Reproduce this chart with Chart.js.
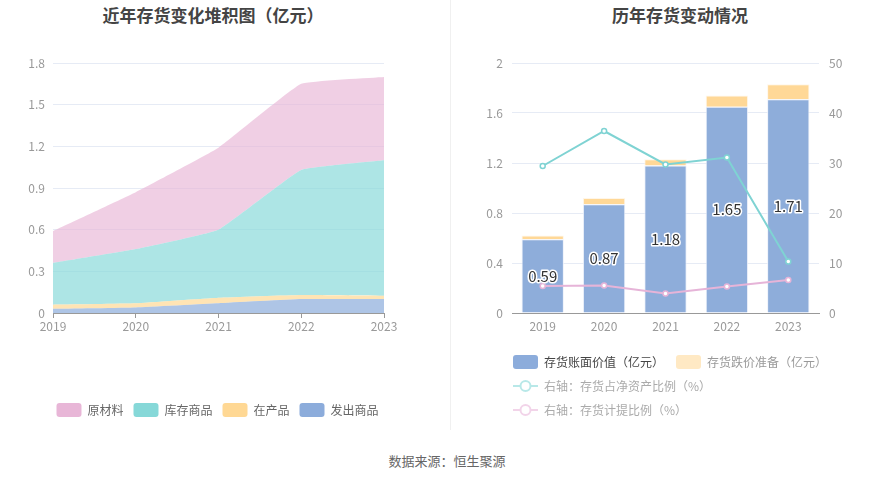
<!DOCTYPE html>
<html>
<head>
<meta charset="utf-8">
<script src="https://cdn.jsdelivr.net/npm/chart.js@4.4.1/dist/chart.umd.min.js"></script>
<style>
  body { margin: 0; background: #fff; font-family: "Noto Sans CJK SC", "Noto Sans", sans-serif; }
  #wrap { position: relative; width: 893px; height: 481px; overflow: hidden; }
  .title { position: absolute; top: 2px; font-size: 17px; font-weight: bold; color: #444; transform: translateX(-50%); white-space: nowrap; }
  #sep { position: absolute; left: 450px; top: 0; width: 1px; height: 430px; background: #f0f0f0; }
  #src { position: absolute; top: 451px; left: 447px; transform: translateX(-50%); font-size: 13px; color: #666; white-space: nowrap; }
  .box { position: absolute; }
</style>
</head>
<body>
<div id="wrap">
  <div class="title" style="left:213px">近年存货变化堆积图（亿元）</div>
  <div class="title" style="left:680px">历年存货变动情况</div>
  <div id="sep"></div>
  <div class="box" style="left:0;top:40px;width:435px;height:387px"><canvas id="left"></canvas></div>
  <div class="box" style="left:450px;top:40px;width:443px;height:390px"><canvas id="right"></canvas></div>
  <div id="src">数据来源：恒生聚源</div>
</div>
<script>
// 数据
var years = ['2019', '2020', '2021', '2022', '2023'];

// 左图：堆积面积（亿元）
var fachu = [0.03, 0.04, 0.07, 0.10, 0.10];      // 发出商品
var zaichan = [0.03, 0.03, 0.04, 0.03, 0.025];   // 在产品
var kucun = [0.30, 0.39, 0.49, 0.90, 0.975];     // 库存商品
var yuancai = [0.23, 0.41, 0.59, 0.62, 0.60];    // 原材料
var leftTicks = [0, 0.3, 0.6, 0.9, 1.2, 1.5, 1.8];

// 右图
var zhangmian = [0.59, 0.87, 1.18, 1.65, 1.71];  // 存货账面价值
var diejia = [0.03, 0.05, 0.05, 0.09, 0.12];     // 存货跌价准备
var zhanbi = [29.4, 36.4, 29.7, 31.1, 10.3];     // 存货占净资产比例 %
var jiti = [5.4, 5.5, 3.9, 5.3, 6.6];            // 存货计提比例 %

var tickColor = '#999';
var gridColor = '#e6ebf5';
Chart.defaults.font.family = '"Noto Sans CJK SC", "Noto Sans", sans-serif';
Chart.defaults.font.size = 12;
Chart.defaults.animation = false;

function fmt(v) { return String(+(+v).toFixed(1)); }

new Chart(document.getElementById('left'), {
  type: 'line',
  data: {
    labels: years,
    datasets: [
      { label: '发出商品', data: fachu, backgroundColor: 'rgba(140,172,219,0.7)', legendColor: '#8cacdb', fill: 'origin' },
      { label: '在产品', data: zaichan, backgroundColor: 'rgba(255,216,148,0.7)', legendColor: '#ffd894', fill: '-1' },
      { label: '库存商品', data: kucun, backgroundColor: 'rgba(134,216,216,0.68)', legendColor: '#86d8d8', fill: '-1' },
      { label: '原材料', data: yuancai, backgroundColor: 'rgba(232,181,214,0.65)', legendColor: '#e8b6d7', fill: '-1' }
    ]
  },
  options: {
    responsive: true,
    maintainAspectRatio: false,
    layout: { padding: { top: 23, left: 0, right: 0, bottom: 0 } },
    elements: { line: { borderWidth: 0, tension: 0.1 }, point: { radius: 0 } },
    scales: {
      x: {
        offset: false,
        grid: { display: true, drawOnChartArea: false, drawTicks: true, tickLength: 5, color: '#999' },
        border: { color: '#999' },
        ticks: { color: tickColor, padding: 1, maxRotation: 0 },
        afterFit: function (s) { s.height = 80; s.paddingRight = 51; }
      },
      y: {
        stacked: true,
        min: 0, max: 1.8,
        afterBuildTicks: function (s) { s.ticks = leftTicks.map(function (v) { return { value: v }; }); },
        grid: { color: gridColor, drawTicks: false },
        border: { display: false },
        ticks: { color: tickColor, padding: 8, callback: fmt },
        afterFit: function (s) { s.width = 53; }
      }
    },
    plugins: {
      tooltip: { enabled: false },
      legend: {
        position: 'bottom',
        reverse: true,
        labels: {
          boxWidth: 25, boxHeight: 14, padding: 10, color: '#666', useBorderRadius: true, borderRadius: 3,
          generateLabels: function (chart) {
            return chart.data.datasets.map(function (d, i) {
              return { text: d.label, fillStyle: d.legendColor, strokeStyle: d.legendColor, lineWidth: 0,
                       fontColor: '#666', borderRadius: 3, datasetIndex: i, hidden: false };
            });
          }
        }
      }
    }
  }
});

// 图例图标
function rectIcon(color) {
  var c = document.createElement('canvas');
  c.width = 25; c.height = 14;
  var g = c.getContext('2d');
  g.fillStyle = color;
  g.beginPath();
  g.roundRect(0, 0, 25, 14, 3);
  g.fill();
  return c;
}
function lineIcon(color) {
  var c = document.createElement('canvas');
  c.width = 25; c.height = 14;
  var g = c.getContext('2d');
  g.strokeStyle = color;
  g.lineWidth = 2;
  g.beginPath(); g.moveTo(0, 7); g.lineTo(25, 7); g.stroke();
  g.fillStyle = '#fff';
  g.beginPath(); g.arc(12.5, 7, 5, 0, Math.PI * 2); g.fill(); g.stroke();
  return c;
}

var barLabels = {
  id: 'barLabels',
  afterDatasetsDraw: function (chart) {
    var ctx = chart.ctx;
    var meta = chart.getDatasetMeta(0);
    ctx.save();
    ctx.font = '15px "Noto Sans CJK SC", "Noto Sans", sans-serif';
    ctx.textAlign = 'center';
    ctx.textBaseline = 'middle';
    ctx.lineJoin = 'round';
    meta.data.forEach(function (el, i) {
      var y = (el.y + el.base) / 2;
      var t = zhangmian[i].toFixed(2);
      ctx.strokeStyle = '#fff';
      ctx.lineWidth = 3;
      ctx.strokeText(t, el.x, y);
      ctx.fillStyle = '#333';
      ctx.fillText(t, el.x, y);
    });
    ctx.restore();
  }
};

// 图例左移到与图表区对齐
var legendShift = {
  id: 'legendShift',
  afterLayout: function (chart) { chart.legend.left += 31; chart.legend.right += 31; }
};

new Chart(document.getElementById('right'), {
  type: 'bar',
  data: {
    labels: years,
    datasets: [
      { type: 'bar', label: '存货账面价值（亿元）', data: zhangmian, backgroundColor: '#8eadda', borderColor: 'rgba(235,240,250,0.9)', borderWidth: 1, stack: 's', order: 1,
        icon: rectIcon('#8cacdb'), textColor: '#444' },
      { type: 'bar', label: '存货跌价准备（亿元）', data: diejia, backgroundColor: '#ffd897', borderColor: 'rgba(255,245,230,0.9)', borderWidth: 1, stack: 's', order: 1,
        icon: rectIcon('#ffe9c4'), textColor: '#999' },
      { type: 'line', label: '右轴：存货占净资产比例（%）', data: zhanbi, yAxisID: 'y1', borderColor: '#7fd3d3', borderWidth: 2,
        pointRadius: 2.5, pointBorderWidth: 1.5, pointBackgroundColor: '#fff', pointBorderColor: '#7fd3d3', tension: 0, order: 0,
        icon: lineIcon('#b8e8e8'), textColor: '#aaa' },
      { type: 'line', label: '右轴：存货计提比例（%）', data: jiti, yAxisID: 'y1', borderColor: '#e6b4d8', borderWidth: 2,
        pointRadius: 2.5, pointBorderWidth: 1.5, pointBackgroundColor: '#fff', pointBorderColor: '#e6b4d8', tension: 0, order: 0,
        icon: lineIcon('#f2d4e9'), textColor: '#aaa' }
    ]
  },
  options: {
    responsive: true,
    maintainAspectRatio: false,
    layout: { padding: { top: 23, left: 20, right: 45, bottom: 4 } },
    datasets: { bar: { categoryPercentage: 0.69, barPercentage: 1 } },
    scales: {
      x: {
        stacked: true,
        grid: { display: false, drawTicks: false },
        border: { color: '#999' },
        ticks: { color: tickColor, padding: 6, maxRotation: 0 },
        afterFit: function (s) { s.height = 31; }
      },
      y: {
        stacked: true,
        min: 0, max: 2,
        ticks: { stepSize: 0.4, color: tickColor, padding: 9, callback: fmt },
        grid: { color: gridColor, drawTicks: false },
        border: { display: false },
        afterFit: function (s) { s.width = 42; }
      },
      y1: {
        position: 'right',
        min: 0, max: 50,
        ticks: { stepSize: 10, color: tickColor, padding: 10 },
        grid: { display: false, drawTicks: false },
        border: { display: false },
        afterFit: function (s) { s.width = 29; }
      }
    },
    plugins: {
      tooltip: { enabled: false },
      legend: {
        position: 'bottom',
        align: 'start',
        labels: {
          usePointStyle: true, pointStyleWidth: 25, padding: 12, color: '#999',
          generateLabels: function (chart) {
            return chart.data.datasets.map(function (d, i) {
              return { text: d.label, pointStyle: d.icon, fontColor: d.textColor, lineWidth: 0, datasetIndex: i, hidden: false };
            });
          }
        }
      }
    }
  },
  plugins: [barLabels, legendShift]
});
</script>
</body>
</html>
